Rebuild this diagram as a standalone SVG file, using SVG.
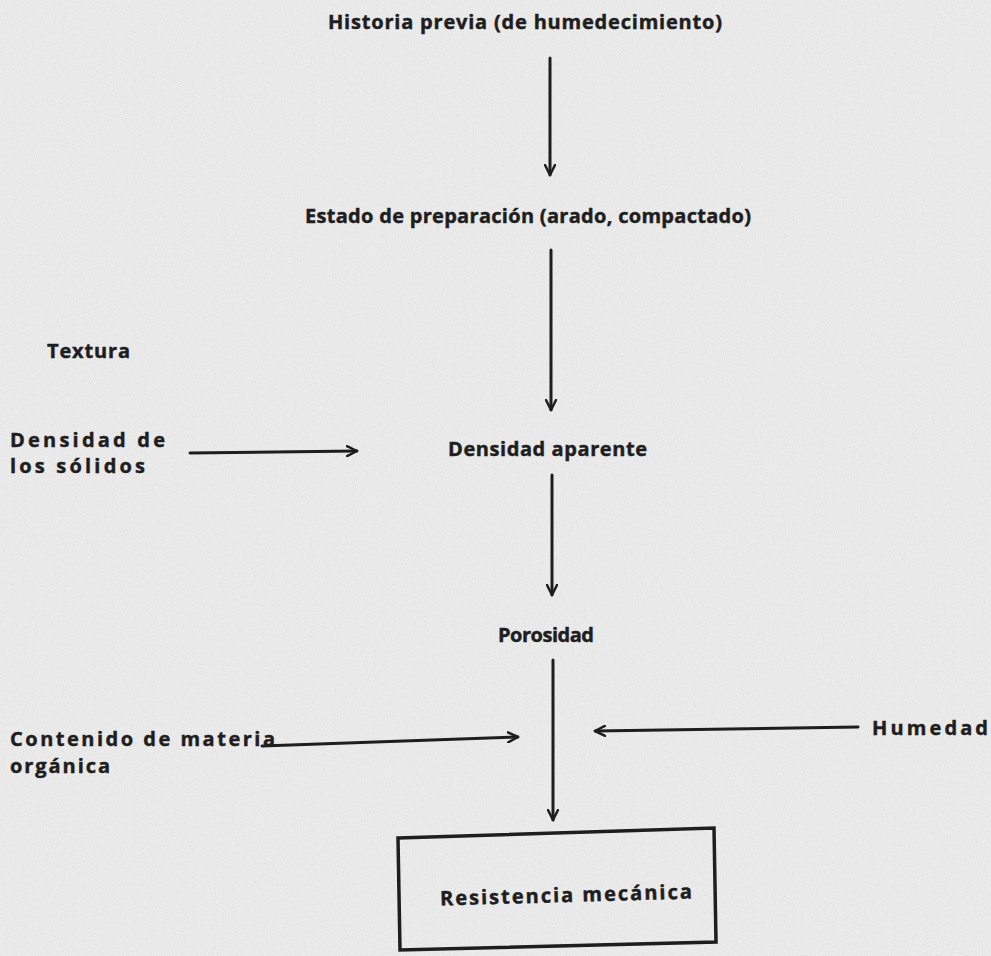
<svg xmlns="http://www.w3.org/2000/svg" width="991" height="956" viewBox="0 0 991 956">
<defs>
<style>
.t{font-family:"Open Sans","Liberation Sans","DejaVu Sans",sans-serif;font-weight:bold;font-size:20px;fill:#1e1e1e;stroke:#1e1e1e;stroke-width:0.45;}
.c{stroke:#1e1e1e;stroke-width:3;fill:none;stroke-linecap:round;}
.box{stroke:#1e1e1e;stroke-width:3.5;fill:none;stroke-linejoin:miter;}
</style>
<marker id="ah" viewBox="0 0 12 12" refX="11" refY="6" markerWidth="12" markerHeight="12" markerUnits="userSpaceOnUse" orient="auto">
<path d="M1,1 L11,6 L1,11" fill="none" stroke="#1e1e1e" stroke-width="2.5" stroke-linecap="round" stroke-linejoin="round"/>
</marker>
<filter id="noise" x="0" y="0" width="100%" height="100%">
<feTurbulence type="fractalNoise" baseFrequency="0.9" numOctaves="2" seed="3" result="n"/>
<feColorMatrix in="n" type="matrix" values="0 0 0 0 0.55  0 0 0 0 0.55  0 0 0 0 0.55  0 0 0 -2.2 1.25"/>
</filter>
</defs>
<rect width="991" height="956" fill="#ececec"/>
<rect width="991" height="956" filter="url(#noise)" opacity="0.35"/>

<g id="connectors">
<line class="c" x1="550" y1="58" x2="550" y2="175" marker-end="url(#ah)"/>
<line class="c" x1="551" y1="250" x2="551" y2="410" marker-end="url(#ah)"/>
<line class="c" x1="190" y1="453" x2="357" y2="451" marker-end="url(#ah)"/>
<line class="c" x1="552" y1="475" x2="552" y2="595" marker-end="url(#ah)"/>
<line class="c" x1="553" y1="660" x2="553" y2="820" marker-end="url(#ah)"/>
<line class="c" x1="262" y1="746" x2="518" y2="737" marker-end="url(#ah)"/>
<line class="c" x1="858" y1="727" x2="595" y2="731" marker-end="url(#ah)"/>
</g>

<g id="historia">
<text class="t" x="328" y="29" textLength="394" lengthAdjust="spacing">Historia previa (de humedecimiento)</text>
</g>
<g id="estado">
<text class="t" x="305" y="223" textLength="446" lengthAdjust="spacing">Estado de preparación (arado, compactado)</text>
</g>
<g id="textura">
<text class="t" x="47" y="358" textLength="83" lengthAdjust="spacing">Textura</text>
</g>
<g id="densidad-solidos">
<text class="t" x="10" y="447" textLength="155" lengthAdjust="spacing">Densidad de</text>
<text class="t" x="10" y="473" textLength="135" lengthAdjust="spacing">los sólidos</text>
</g>
<g id="densidad-aparente">
<text class="t" x="448" y="456" textLength="199" lengthAdjust="spacing">Densidad aparente</text>
</g>
<g id="porosidad">
<text class="t" x="498" y="642" textLength="96" lengthAdjust="spacing">Porosidad</text>
</g>
<g id="materia-organica">
<text class="t" x="10" y="746" textLength="265" lengthAdjust="spacing">Contenido de materia</text>
<text class="t" x="10" y="773" textLength="100" lengthAdjust="spacing">orgánica</text>
</g>
<g id="humedad">
<text class="t" x="872" y="735" textLength="116" lengthAdjust="spacing">Humedad</text>
</g>
<g id="resistencia">
<polygon class="box" points="398,838 714,828 716,942 400,950"/>
<text class="t" x="440" y="902" textLength="252" lengthAdjust="spacing" transform="rotate(-1.6 566 897)">Resistencia mecánica</text>
</g>
</svg>
